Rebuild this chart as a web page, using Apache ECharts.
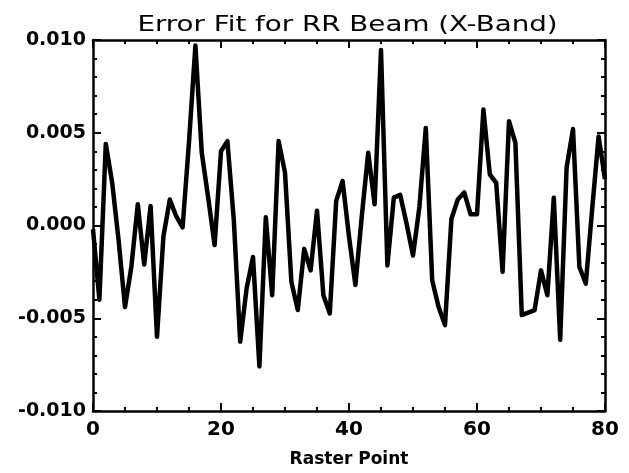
<!DOCTYPE html>
<html>
<head>
<meta charset="utf-8">
<script src="https://cdn.jsdelivr.net/npm/echarts@6/dist/echarts.min.js"></script>
<style>
html,body{margin:0;padding:0;background:#fff;}
#chart{width:629px;height:473px;}
</style>
</head>
<body>
<div id="chart"></div>
<script>
const chartTitle = "Error Fit for RR Beam (X-Band)";
const xAxisName = "Raster Point";
const rasterPoints = [0,1,2,3,4,5,6,7,8,9,10,11,12,13,14,15,16,17,18,19,20,
  21,22,23,24,25,26,27,28,29,30,31,32,33,34,35,36,37,38,39,40,
  41,42,43,44,45,46,47,48,49,50,51,52,53,54,55,56,57,58,59,60,
  61,62,63,64,65,66,67,68,69,70,71,72,73,74,75,76,77,78,79,80];
const errorValues = [
  -0.0002,-0.0040,0.0044,0.0023,-0.0008,-0.0044,-0.0022,0.00115,-0.0021,0.00105,
  -0.0060,-0.0006,0.0014,0.0005,-0.0001,0.0045,0.0097,0.0039,0.0015,-0.00105,
  0.0040,0.00455,0.0003,-0.00626,-0.0034,-0.0017,-0.0076,0.00044,-0.00376,0.00455,
  0.00285,-0.00305,-0.00456,-0.00126,-0.00242,0.0008,-0.00376,-0.00474,0.00133,0.0024,
  -0.0006,-0.0032,0.0005,0.00392,0.00115,0.00946,-0.00215,0.0015,0.00165,0.0001,
  -0.00162,0.0010,0.00526,-0.00295,-0.0044,-0.00537,0.00035,0.0014,0.00178,0.0006,
  0.0006,0.00625,0.00276,0.0023,-0.0025,0.00562,0.00446,-0.00483,-0.0047,-0.00456,
  -0.00242,-0.00376,0.0015,-0.00617,0.00312,0.0052,-0.00224,-0.00313,0.0009,0.0048,
  0.0025
];
const xTicks = [0, 20, 40, 60, 80];
const yTicks = [-0.010, -0.005, 0.000, 0.005, 0.010];

const FONT = 'DejaVu Sans';
const seriesData = rasterPoints.map((x, i) => [x, errorValues[i]]);

function xAx(pos, showLabel) {
  return {
    type: 'value', position: pos,
    min: xTicks[0], max: xTicks[xTicks.length - 1], interval: xTicks[1] - xTicks[0],
    axisLine: {show: true, onZero: false, lineStyle: {color: '#000', width: 2.5}},
    axisTick: {show: true, inside: true, length: 8, lineStyle: {color: '#000', width: 2}},
    minorTick: {show: true, splitNumber: 4, length: 4, lineStyle: {color: '#000', width: 2}},
    splitLine: {show: false},
    axisLabel: {show: showLabel, color: '#000', fontSize: 20, fontWeight: 'bold', fontFamily: FONT, margin: 9},
    name: showLabel ? xAxisName : '',
    nameLocation: 'middle', nameGap: 40,
    nameTextStyle: {color: '#000', fontSize: 17, fontWeight: 'bold', fontFamily: FONT}
  };
}
function yAx(pos, showLabel) {
  return {
    type: 'value', position: pos,
    min: yTicks[0], max: yTicks[yTicks.length - 1], interval: yTicks[1] - yTicks[0],
    axisLine: {show: true, onZero: false, lineStyle: {color: '#000', width: 2.5}},
    axisTick: {show: true, inside: true, length: 8, lineStyle: {color: '#000', width: 2}},
    minorTick: {show: true, splitNumber: 5, length: 4, lineStyle: {color: '#000', width: 2}},
    splitLine: {show: false},
    axisLabel: {show: showLabel, color: '#000', fontSize: 19, fontWeight: 'bold', fontFamily: FONT, margin: 7,
      formatter: v => (Math.abs(v) < 1e-12 ? 0 : v).toFixed(3)}
  };
}

const chart = echarts.init(document.getElementById('chart'), null, {renderer: 'canvas'});
chart.setOption({
  animation: false,
  backgroundColor: '#fff',
  graphic: [{
    type: 'text', x: 347.5, y: 26, scaleX: 1.32, scaleY: 1,
    style: {
      text: chartTitle, fill: '#000',
      font: 'normal 21px "DejaVu Sans"',
      textAlign: 'center', textVerticalAlign: 'middle'
    }
  }],
  grid: {left: 93, right: 24, top: 40, bottom: 60},
  xAxis: [xAx('bottom', true), xAx('top', false)],
  yAxis: [yAx('left', true), yAx('right', false)],
  series: [{
    type: 'line', xAxisIndex: 0, yAxisIndex: 0,
    data: seriesData, symbol: 'none',
    lineStyle: {color: '#000', width: 4.5, join: 'round'}
  }]
});
</script>
</body>
</html>
